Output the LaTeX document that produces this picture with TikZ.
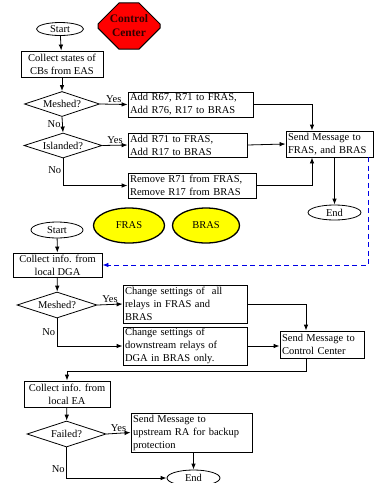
\documentclass[tikz,border=0pt]{standalone}
\usepackage{fontspec}
\setmainfont{Liberation Serif}
\usetikzlibrary{shapes.geometric, shapes.misc, arrows.meta, positioning, calc}
\definecolor{ccred}{RGB}{255,0,0}
\definecolor{cctext}{RGB}{50,0,0}
\definecolor{areayel}{RGB}{255,255,0}
\definecolor{msgblue}{RGB}{0,0,230}
\tikzset{
  actbox/.style={rectangle, draw=black, fill=white, align=left,
    text width=#1, inner xsep=2pt, inner ysep=1pt, line width=0.8pt,
    font=\fontsize{10.5}{13}\selectfont},
  getbox/.style={rectangle, draw=black, fill=white, align=center,
    inner sep=1pt, line width=0.8pt, font=\fontsize{10.5}{13}\selectfont},
  decide/.style={diamond, draw=black, fill=white, aspect=3, inner sep=0pt,
    line width=0.8pt, font=\fontsize{10.5}{13}\selectfont},
  term/.style={ellipse, draw=black, fill=white, inner sep=0pt,
    line width=0.8pt, font=\fontsize{10.5}{13}\selectfont},
  area/.style={ellipse, draw=black, fill=areayel, inner sep=0pt,
    line width=1.3pt, font=\fontsize{10.5}{13}\selectfont},
  arrow/.style={-{Latex[length=6pt,width=4.5pt]}, line width=0.8pt, color=black},
  line/.style={line width=0.8pt, color=black},
  msgarrow/.style={-{Latex[length=6pt,width=4.5pt]}, line width=0.8pt,
    color=msgblue, dash pattern=on 5pt off 3.5pt},
  lbl/.style={font=\fontsize{10.5}{13}\selectfont, inner sep=1.5pt}
}
\begin{document}
\begin{tikzpicture}[x=1pt, y=-1pt]
  \useasboundingbox (0,0) rectangle (374,483);

  % control center part
  \node[term, minimum width=47pt, minimum height=13pt] (startA) at (60,29) {Start};
  \node[chamfered rectangle, chamfered rectangle xsep=10pt, chamfered rectangle ysep=11pt,
    draw=black, line width=1pt, fill=ccred, text=cctext, align=center,
    minimum width=62pt, minimum height=42pt, inner sep=1pt,
    font=\bfseries\fontsize{11.5}{14}\selectfont] (cc) at (129,26) {Control\\Center};
  \node[getbox, minimum width=82pt, minimum height=26pt] (colA) at (62,64)
    {Collect states of\\CBs from EAS};
  \node[decide, minimum width=75pt, minimum height=25pt] (meshA) at (62,104) {Meshed?};
  \node[actbox=121pt, minimum height=25pt] (addA) at (190.5,104.5)
    {Add R67, R71 to FRAS,\\Add R76, R17 to BRAS};
  \node[actbox=115pt, minimum height=24pt] (addB) at (187.5,145)
    {Add R71 to FRAS,\\Add R17 to BRAS};
  \node[decide, minimum width=78pt, minimum height=25pt] (isl) at (63,145.5) {Islanded?};
  \node[actbox=124pt, minimum height=25pt] (remA) at (192,185.5)
    {Remove R71 from FRAS,\\Remove R17 from BRAS};
  \node[actbox=83pt, minimum height=26pt] (sendA) at (329.5,144)
    {Send Message to\\FRAS, and BRAS};
  \node[term, minimum width=53pt, minimum height=15pt] (endA) at (334.5,212.5) {End};

  \draw[arrow] (startA) -- (colA);
  \draw[arrow] (colA) -- (meshA);
  \draw[arrow] (meshA.east) -- node[lbl, above] {Yes} (addA.west);
  \draw[arrow] (meshA.south) -- node[lbl, left, pos=0.45] {No} (isl.north);
  \draw[arrow] (isl.east) -- node[lbl, above] {Yes} (addB.west);
  \draw[arrow] (isl.south) |- node[lbl, left, pos=0.22] {No} (remA.west);
  \draw[arrow] (addA.east) -| ([xshift=-17.5pt]sendA.north);
  \draw[arrow] (addB.east) -- (sendA.west);
  \draw[arrow] (remA.east) -| ([xshift=-17.5pt]sendA.south);
  \draw[arrow] (endA.north |- sendA.south) -- (endA.north);

  % local agent part
  \node[term, minimum width=52pt, minimum height=16pt] (startB) at (57,230) {Start};
  \node[area, minimum width=71pt, minimum height=35pt] (fras) at (129,225.5) {FRAS};
  \node[area, minimum width=67pt, minimum height=35pt] (bras) at (206,225.5) {BRAS};
  \node[getbox, minimum width=89pt, minimum height=24pt] (colB) at (57.5,265)
    {Collect info. from\\local DGA};
  \node[decide, minimum width=80pt, minimum height=26pt] (meshB) at (57,305) {Meshed?};
  \node[actbox=120pt, minimum height=38pt] (chgA) at (185,304)
    {Change settings of\ \ all\\relays in FRAS and\\BRAS};
  \node[actbox=120pt, minimum height=38pt] (chgB) at (185,346)
    {Change settings of\\downstream relays of\\DGA in BRAS only.};
  \node[actbox=80pt, minimum height=27pt] (sendB) at (322,344.5)
    {Send Message to\\Control Center};
  \node[getbox, minimum width=86pt, minimum height=26pt] (colC) at (67,394)
    {Collect info. from\\local EA};
  \node[decide, minimum width=79pt, minimum height=26pt] (fail) at (66.5,434) {Failed?};
  \node[actbox=117pt, minimum height=39pt] (sendC) at (191.5,432.5)
    {Send Message to\\upstream RA for backup\\protection};
  \node[term, minimum width=53pt, minimum height=16pt] (endB) at (193.5,478) {End};

  \draw[msgarrow] ([xshift=-5pt]sendA.south east) |- (colB.east);
  \draw[arrow] (startB) -- (colB);
  \draw[arrow] (colB) -- (meshB);
  \draw[arrow] (meshB.east) -- node[lbl, above] {Yes} (chgA.west);
  \draw[arrow] (meshB.south) |- node[lbl, left, pos=0.25] {No} (chgB.west);
  \draw[arrow] (chgA.east) -| ([xshift=-16pt]sendB.north);
  \draw[arrow] (chgB.east) -- (sendB.west |- chgB.east);
  \draw[arrow] ([xshift=-16pt]sendB.south) -- ++(0,13) -| (colC.north);
  \draw[arrow] (colC) -- (fail);
  \draw[arrow] (fail.east) -- node[lbl, above] {Yes} (sendC.west);
  \draw[arrow] (fail.south) |- node[lbl, left, pos=0.35] {No} (endB.west);
  \draw[arrow] (endB.north |- sendC.south) -- (endB.north);
\end{tikzpicture}
\end{document}
